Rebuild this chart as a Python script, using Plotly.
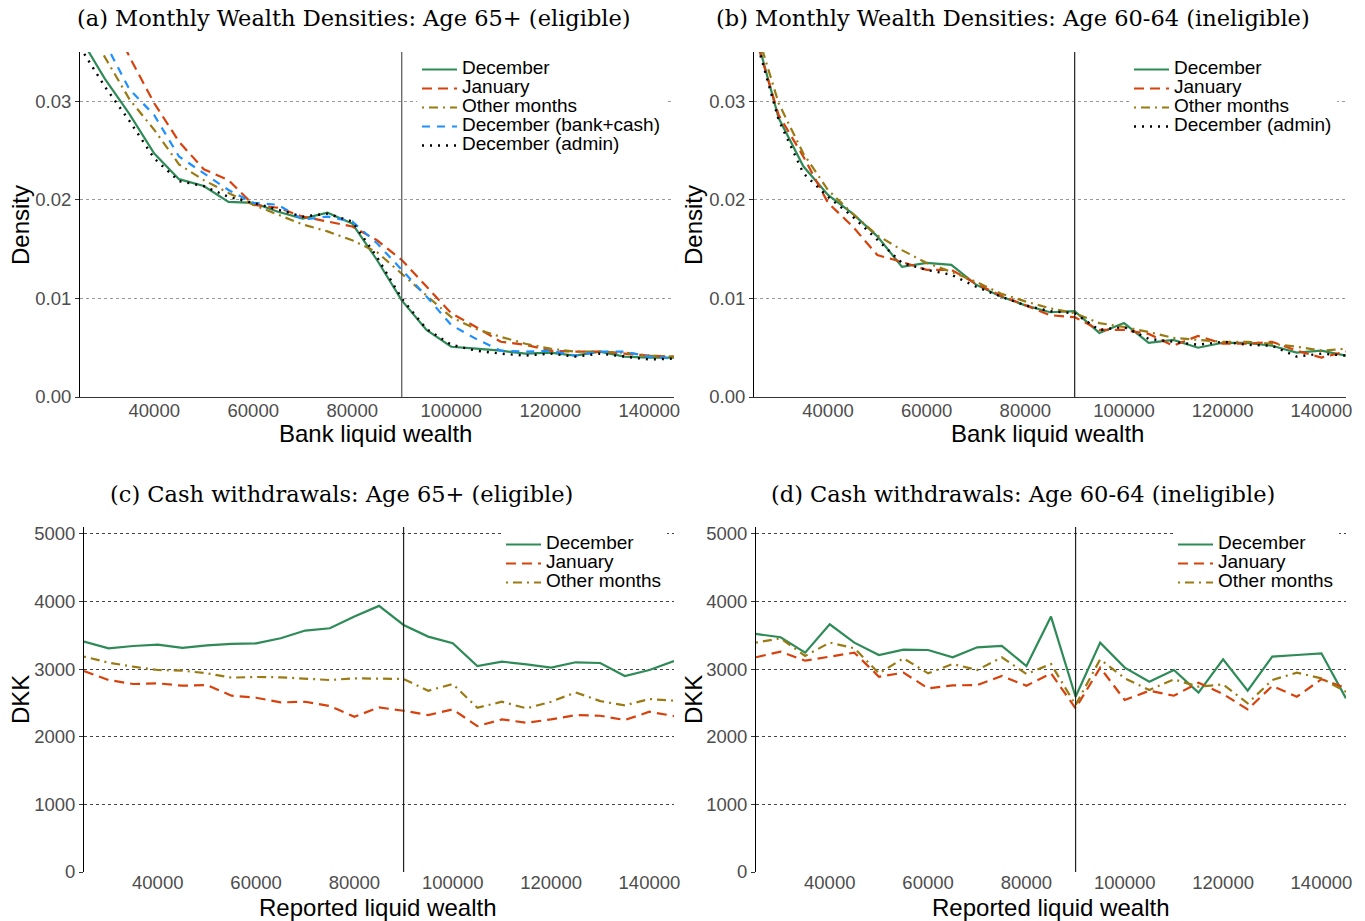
import plotly.graph_objects as go

# ---------------- data ----------------
wealth = [25000, 30000, 35000, 40000, 45000, 50000, 55000, 60000, 65000, 70000,
          75000, 80000, 85000, 90000, 95000, 100000, 105000, 110000, 115000, 120000,
          125000, 130000, 135000, 140000, 145000]
cutoff = 90000

# (a) densities, age 65+
a_dec = [0.0365, 0.0323, 0.0287, 0.0247, 0.0221, 0.0214, 0.0198, 0.0197, 0.0188, 0.0181,
         0.0187, 0.0176, 0.0139, 0.0098, 0.0068, 0.0051, 0.0049, 0.0047, 0.0044, 0.0045,
         0.0042, 0.0046, 0.0041, 0.0040, 0.0040]
a_jan = [0.0460, 0.0400, 0.0345, 0.0298, 0.0259, 0.0231, 0.0220, 0.0195, 0.0192, 0.0183,
         0.0178, 0.0173, 0.0159, 0.0139, 0.0112, 0.0085, 0.0071, 0.0056, 0.0053, 0.0047,
         0.0046, 0.0046, 0.0044, 0.0042, 0.0041]
a_oth = [0.0390, 0.0345, 0.0302, 0.0271, 0.0236, 0.0220, 0.0207, 0.0195, 0.0185, 0.0175,
         0.0168, 0.0159, 0.0147, 0.0125, 0.0102, 0.0081, 0.0069, 0.0061, 0.0054, 0.0049,
         0.0046, 0.0046, 0.0045, 0.0042, 0.0041]
a_bkc = [0.0400, 0.0360, 0.0312, 0.0286, 0.0244, 0.0227, 0.0210, 0.0197, 0.0195, 0.0180,
         0.0183, 0.0178, 0.0156, 0.0129, 0.0102, 0.0073, 0.0059, 0.0047, 0.0046, 0.0047,
         0.0042, 0.0046, 0.0046, 0.0041, 0.0039]
a_adm = [0.0355, 0.0315, 0.0280, 0.0242, 0.0219, 0.0214, 0.0203, 0.0197, 0.0190, 0.0183,
         0.0186, 0.0178, 0.0142, 0.0100, 0.0069, 0.0053, 0.0047, 0.0044, 0.0042, 0.0044,
         0.0041, 0.0044, 0.0041, 0.0038, 0.0039]

# (b) densities, age 60-64
b_dec = [0.0375, 0.0283, 0.0234, 0.0205, 0.0186, 0.0163, 0.0132, 0.0136, 0.0134, 0.0114,
         0.0102, 0.0093, 0.0086, 0.0087, 0.0065, 0.0075, 0.0055, 0.0058, 0.0050, 0.0055,
         0.0055, 0.0052, 0.0045, 0.0047, 0.0042]
b_jan = [0.0370, 0.0286, 0.0244, 0.0197, 0.0173, 0.0144, 0.0137, 0.0129, 0.0129, 0.0115,
         0.0103, 0.0093, 0.0083, 0.0081, 0.0068, 0.0068, 0.0064, 0.0052, 0.0062, 0.0054,
         0.0054, 0.0056, 0.0047, 0.0040, 0.0046]
b_oth = [0.0380, 0.0298, 0.0247, 0.0210, 0.0186, 0.0164, 0.0149, 0.0136, 0.0127, 0.0117,
         0.0105, 0.0097, 0.0090, 0.0085, 0.0075, 0.0071, 0.0066, 0.0060, 0.0058, 0.0056,
         0.0056, 0.0054, 0.0051, 0.0047, 0.0049]
b_adm = [0.0370, 0.0281, 0.0227, 0.0203, 0.0183, 0.0159, 0.0136, 0.0129, 0.0124, 0.0112,
         0.0102, 0.0093, 0.0087, 0.0085, 0.0068, 0.0071, 0.0059, 0.0056, 0.0053, 0.0056,
         0.0053, 0.0052, 0.0041, 0.0044, 0.0042]

# (c) cash withdrawals, age 65+
c_dec = [3406, 3307, 3341, 3361, 3312, 3351, 3371, 3381, 3455, 3569,
         3603, 3776, 3934, 3652, 3480, 3381, 3045, 3110, 3070, 3021,
         3100, 3090, 2897, 2986, 3119]
c_jan = [2971, 2838, 2779, 2789, 2754, 2764, 2606, 2576, 2507, 2517,
         2453, 2295, 2433, 2384, 2320, 2404, 2157, 2256, 2206, 2256,
         2320, 2310, 2246, 2369, 2305]
c_oth = [3184, 3095, 3035, 2986, 2976, 2937, 2873, 2883, 2878, 2863,
         2838, 2863, 2853, 2853, 2680, 2779, 2428, 2517, 2419, 2517,
         2655, 2527, 2463, 2557, 2532]

# (d) cash withdrawals, age 60-64
d_dec = [3519, 3470, 3243, 3662, 3391, 3208, 3287, 3282, 3174, 3322,
         3342, 3045, 3776, 2591, 3391, 3021, 2813, 2986, 2651, 3144,
         2680, 3184, 3208, 3233, 2567]
d_jan = [3174, 3258, 3124, 3184, 3243, 2887, 2947, 2715, 2759, 2764,
         2897, 2754, 2937, 2419, 3021, 2542, 2680, 2606, 2799, 2631,
         2404, 2749, 2591, 2850, 2720]
d_oth = [3391, 3455, 3194, 3391, 3307, 2937, 3159, 2937, 3075, 2986,
         3174, 2927, 3075, 2468, 3144, 2863, 2690, 2848, 2739, 2774,
         2493, 2838, 2947, 2863, 2665]

x_ticks = [40000, 60000, 80000, 100000, 120000, 140000]
dens_ticks = [0.0, 0.01, 0.02, 0.03]
dkk_ticks = [0, 1000, 2000, 3000, 4000, 5000]

titles = ["(a) Monthly Wealth Densities: Age 65+ (eligible)",
          "(b) Monthly Wealth Densities: Age 60-64 (ineligible)",
          "(c) Cash withdrawals: Age 65+ (eligible)",
          "(d) Cash withdrawals: Age 60-64 (ineligible)"]
xtitles = ["Bank liquid wealth", "Bank liquid wealth",
           "Reported liquid wealth", "Reported liquid wealth"]
ytitles = ["Density", "Density", "DKK", "DKK"]

# ---------------- styles ----------------
W, H = 1365, 921
SANS = "Liberation Sans, Arial, sans-serif"
SERIF = "DejaVu Serif, serif"
STY = {
    "December": dict(color="#2E8B57", width=2.2, dash="solid"),
    "January": dict(color="#D7410C", width=2.2, dash="10px,6px"),
    "Other months": dict(color="#9A7A12", width=2.2, dash="2px,5px,9px,5px"),
    "December (bank+cash)": dict(color="#1E90FF", width=2.2, dash="8px,7px"),
    "December (admin)": dict(color="#000000", width=2.4, dash="2px,6px"),
}


def px_x(p):
    return p / W


def px_y(p):
    return (H - p) / H


fig = go.Figure()

panels = [
    ("x", "y", "legend", [("December", a_dec), ("January", a_jan), ("Other months", a_oth),
                          ("December (bank+cash)", a_bkc), ("December (admin)", a_adm)]),
    ("x2", "y2", "legend2", [("December", b_dec), ("January", b_jan), ("Other months", b_oth),
                             ("December (admin)", b_adm)]),
    ("x3", "y3", "legend3", [("December", c_dec), ("January", c_jan), ("Other months", c_oth)]),
    ("x4", "y4", "legend4", [("December", d_dec), ("January", d_jan), ("Other months", d_oth)]),
]

for xa, ya, lg, series in panels:
    for name, vals in series:
        fig.add_trace(go.Scatter(
            x=wealth, y=vals, mode="lines", xaxis=xa, yaxis=ya, legend=lg,
            name='<span style="font-size:19px">' + name + '</span>',
            line=STY[name], hoverinfo="skip"))

# ---------------- axes ----------------
doms = {
    1: dict(x=(80, 674), y=(52, 397)),
    2: dict(x=(754, 1346), y=(52, 397)),
    3: dict(x=(84, 674), y=(527, 872)),
    4: dict(x=(756, 1346), y=(527, 872)),
}

layout = dict(
    width=W, height=H, margin=dict(l=0, r=0, t=0, b=0),
    paper_bgcolor="white", plot_bgcolor="white",
    font=dict(family=SANS, color="black"),
    showlegend=True,
)

for i in range(1, 5):
    sx = "" if i == 1 else str(i)
    d = doms[i]
    dens = i <= 2
    layout["xaxis" + sx] = dict(
        domain=[px_x(d["x"][0]), px_x(d["x"][1])],
        range=[25000, 145000], anchor="y" + sx,
        tickvals=x_ticks, tickformat="d",
        tickfont=dict(size=18.5, color="#4D4D4D", family=SANS),
        ticklabelstandoff=-3,
        showgrid=False, zeroline=False,
        showline=dens, linecolor="#333333", linewidth=1,
        ticks="", automargin=False,
    )
    layout["yaxis" + sx] = dict(
        domain=[px_y(d["y"][1]), px_y(d["y"][0])],
        range=[0, 0.035] if dens else [0, 5100], anchor="x" + sx,
        tickvals=dens_ticks if dens else dkk_ticks,
        tickformat=".2f" if dens else "d",
        tickfont=dict(size=18.5, color="#4D4D4D", family=SANS),
        showgrid=True, griddash="dot",
        gridcolor="#9A9A9A" if dens else "#444444", gridwidth=1,
        zeroline=False, showline=True, linecolor="black", linewidth=1,
        ticks="outside", ticklen=4, tickcolor="#333333", automargin=False,
    )

# legends inside panels
leg_pos = {"legend": (417, 55), "legend2": (1129, 55), "legend3": (501, 530), "legend4": (1173, 530)}
for key, (lx, ly) in leg_pos.items():
    layout[key] = dict(
        x=px_x(lx), y=px_y(ly), xanchor="left", yanchor="top",
        xref="paper", yref="paper",
        bgcolor="white", borderwidth=0,
        font=dict(size=11.8, family=SANS, color="black"),
        itemwidth=35, tracegroupgap=0, itemclick=False,
    )

fig.update_layout(**layout)

# panel titles
title_pos = [(354, 18), (1013, 18), (341, 494), (1023, 494)]
for t, (tx, ty) in zip(titles, title_pos):
    fig.add_annotation(text=t, x=px_x(tx), y=px_y(ty), xref="paper", yref="paper",
                       xanchor="center", yanchor="middle", showarrow=False,
                       font=dict(family=SERIF, size=22.5, color="black"))

# axis titles
xt_pos = [(375, 433), (1047, 433), (377, 907), (1050, 907)]
for t, (tx, ty) in zip(xtitles, xt_pos):
    fig.add_annotation(text=t, x=px_x(tx), y=px_y(ty), xref="paper", yref="paper",
                       xanchor="center", yanchor="middle", showarrow=False,
                       font=dict(family=SANS, size=24, color="black"))
yt_pos = [(20, 225), (693, 225), (20, 700), (693, 700)]
for t, (tx, ty) in zip(ytitles, yt_pos):
    fig.add_annotation(text=t, x=px_x(tx), y=px_y(ty), xref="paper", yref="paper",
                       xanchor="center", yanchor="middle", showarrow=False, textangle=-90,
                       font=dict(family=SANS, size=24, color="black"))

# eligibility cutoff lines
for i in range(1, 5):
    sx = "" if i == 1 else str(i)
    fig.add_shape(type="line", x0=cutoff, x1=cutoff, y0=0, y1=1,
                  xref="x" + sx, yref="y" + sx + " domain",
                  line=dict(color="#555555" if i == 1 else "#222222", width=1.2))

fig.write_html("out.html", config={"displayModeBar": False},
               post_script="document.body.style.margin='0px';")
